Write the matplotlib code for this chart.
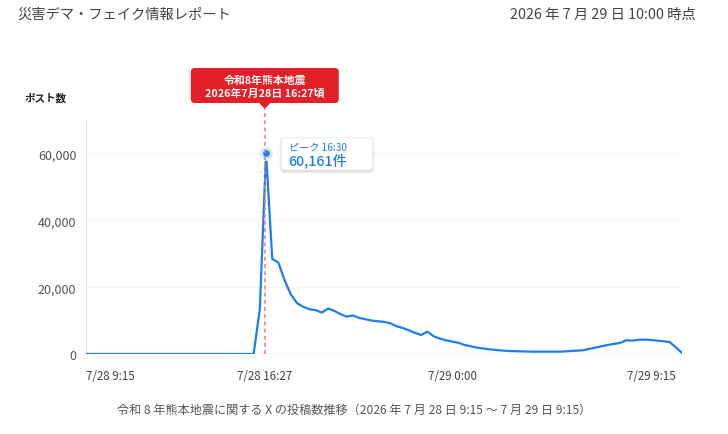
import matplotlib
matplotlib.use("Agg")
import matplotlib.pyplot as plt
import matplotlib.dates as mdates
from matplotlib.patches import FancyBboxPatch, Polygon
from matplotlib.lines import Line2D
from matplotlib.transforms import IdentityTransform, ScaledTranslation
import pandas as pd

plt.rcParams['font.family'] = ['Noto Sans CJK JP', 'DejaVu Sans']

# ---- データ（15分ごとのポスト数） ----
start_time = "2026-07-28 09:15"
step = "15min"
posts = (
    [0] * 28 +  # 9:15 - 16:00
    [13500, 60161, 28500, 27300, 22000, 17800, 15200, 14100, 13400, 13100,
     12400, 13600, 12900, 11900, 11200, 11500, 10800, 10400, 10000, 9800,
     9600, 9200, 8300, 7800, 7100, 6300, 5700, 6700, 5300, 4600, 4100] +
    [3700, 3350, 2700, 2300, 1900, 1650, 1400, 1200, 1050, 900,
     850, 800, 750, 700, 700, 700, 700, 700, 750, 900,
     1000, 1100, 1500, 1900, 2300, 2700, 3000, 3300, 4100, 4000,
     4250, 4300, 4200, 4000, 3800, 3600, 2000, 300]
)
times = pd.date_range(start_time, periods=len(posts), freq=step)

event_time = pd.Timestamp("2026-07-28 16:27")
tick_times = [pd.Timestamp("2026-07-28 09:15"), event_time,
              pd.Timestamp("2026-07-29 00:00"), pd.Timestamp("2026-07-29 09:15")]
tick_labels = ["7/28 9:15", "7/28 16:27", "7/29 0:00", "7/29 9:15"]
y_ticks = [0, 20000, 40000, 60000]

title = "災害デマ・フェイク情報レポート"
stamp = "2026 年 7 月 29 日 10:00 時点"
ylabel = "ポスト数"
event_lines = ["令和8年熊本地震", "2026年7月28日 16:27頃"]
caption = "令和 8 年熊本地震に関する X の投稿数推移（2026 年 7 月 28 日 9:15 ～ 7 月 29 日 9:15）"

BLUE = "#1b7ff2"
RED = "#e3202a"

W, H = 728, 435
fig = plt.figure(figsize=(W / 100, H / 100), dpi=100)
fig.patch.set_facecolor("white")
ax = fig.add_axes([86 / W, 1 - 355 / H, (682 - 86) / W, (355 - 121) / H])

ax.plot(times, posts, color=BLUE, lw=1.6, solid_joinstyle="round", zorder=3)

ax.set_xlim(times[0], times[-1])
ax.set_ylim(0, 70000)

for s in ["top", "right", "bottom"]:
    ax.spines[s].set_visible(False)
ax.spines["left"].set_color("#dddddd")
ax.axhline(0, color="#cccccc", lw=1, zorder=2)
for v in y_ticks[1:]:
    ax.axhline(v, color="#dedede", lw=0.8, ls=(0, (1, 2.5)), zorder=1)

ax.set_yticks(y_ticks)
ax.set_yticklabels([f"{v:,}" for v in y_ticks])
ax.tick_params(axis="y", length=0, pad=7, labelsize=9, labelcolor="#555555")
ax.set_xticks(tick_times)
ax.set_xticklabels(tick_labels)
ax.tick_params(axis="x", length=0, pad=11, labelsize=8.3, labelcolor="#444444")
xl = ax.get_xticklabels()
xl[0].set_ha("left")
xl[-1].set_ha("right")
xl[-1].set_transform(xl[-1].get_transform() + ScaledTranslation(-0.06, 0, fig.dpi_scale_trans))

fig.canvas.draw()
ident = IdentityTransform()

# 地震発生の縦線と赤い吹き出し
ex, _ = ax.transData.transform((mdates.date2num(event_time), 0))
base_y = H - 355
tip_y = H - 110
fig.add_artist(Line2D([ex, ex], [base_y, tip_y], color="#f07878", lw=1.1,
                      ls=(0, (2.5, 2.2)), transform=ident, zorder=4))
bw, b_top, b_bot = 148, H - 69, H - 104
fig.add_artist(FancyBboxPatch((ex - bw / 2, b_bot), bw, b_top - b_bot,
                              boxstyle="round,pad=0,rounding_size=4",
                              fc=RED, ec="none", transform=ident, zorder=5))
fig.add_artist(Polygon([[ex - 6, b_bot + 0.5], [ex + 6, b_bot + 0.5], [ex, tip_y]],
                       closed=True, fc=RED, ec="none", transform=ident, zorder=5))
fig.text(ex / W, (H - 80.5) / H, event_lines[0], color="white", fontsize=7.8,
         fontweight="bold", ha="center", va="center", zorder=6)
fig.text(ex / W, (H - 93.5) / H, event_lines[1], color="white", fontsize=7.8,
         fontweight="bold", ha="center", va="center", zorder=6)

# ピークのマーカーとツールチップ
i_peak = posts.index(max(posts))
ax.scatter([times[i_peak]], [posts[i_peak]], s=95, color="#d3e5fb",
           edgecolor="white", lw=0.8, zorder=6, clip_on=False)
ax.scatter([times[i_peak]], [posts[i_peak]], s=14, color=BLUE, zorder=7, clip_on=False)
px, py = ax.transData.transform((mdates.date2num(times[i_peak]), posts[i_peak]))
tx0, tw, th = px + 15.5, 91, 32
ty0 = py - 17
for k, a in [(3, 0.03), (2, 0.045), (1, 0.06)]:
    fig.add_artist(FancyBboxPatch((tx0 - k + 0.5, ty0 - k - 1), tw + 2 * k - 1, th + 2 * k - 1,
                                  boxstyle="round,pad=0,rounding_size=5",
                                  fc="#000000", ec="none", alpha=a,
                                  transform=ident, zorder=5))
fig.add_artist(FancyBboxPatch((tx0, ty0), tw, th,
                              boxstyle="round,pad=0,rounding_size=4",
                              fc="white", ec="#eeeeee", lw=0.6,
                              transform=ident, zorder=6))
peak_label = "ピーク " + times[i_peak].strftime("%H:%M")
fig.text((tx0 + 7.5) / W, (ty0 + th - 8.5) / H, peak_label, color=BLUE,
         fontsize=7.3, ha="left", va="center", zorder=7)
fig.text((tx0 + 7) / W, (ty0 + 10.5) / H, f"{posts[i_peak]:,}件", color=BLUE,
         fontsize=10.2, fontweight="medium", ha="left", va="center", zorder=7)

# 見出し・注記
fig.text(17 / W, 1 - 15 / H, title, fontsize=10.3, color="#444444", ha="left", va="center")
fig.text(696 / W, 1 - 15 / H, stamp, fontsize=10.3, color="#444444", ha="right", va="center")
fig.text(25 / W, 1 - 98 / H, ylabel, fontsize=7.6, fontweight="bold", color="#222222",
         ha="left", va="center")
fig.text(354 / W, 1 - 410 / H, caption, fontsize=8.7, color="#555555", ha="center", va="center")

fig.savefig("out.png", dpi=100, facecolor="white")
